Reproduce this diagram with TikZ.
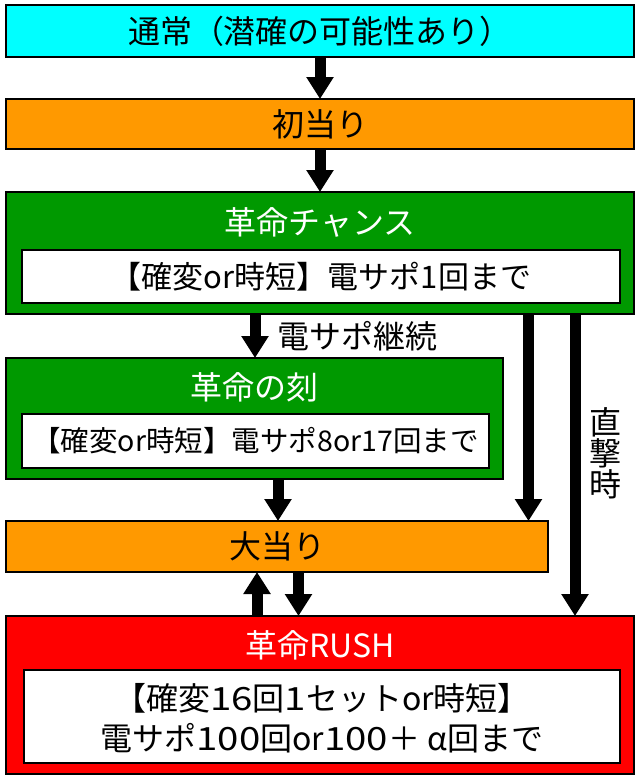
\documentclass[tikz,border=0pt]{standalone}
\usepackage{fontspec}
\setmainfont{Noto Sans CJK JP}
\newfontfamily\digw[FakeStretch=1.2]{Noto Sans CJK JP}
\usetikzlibrary{arrows.meta}
\definecolor{cyanc}{HTML}{00FFFF}
\definecolor{orangec}{HTML}{FF9900}
\definecolor{greenc}{HTML}{009900}
\definecolor{redc}{HTML}{FF0000}
\begin{document}
\begin{tikzpicture}[x=1pt,y=-1pt,
  box/.style={draw=black,line width=1.5pt,inner sep=0pt,outer sep=0pt,rectangle},
  inbox/.style={draw=black,line width=1.3pt,fill=white,inner sep=0pt,outer sep=0pt,rectangle},
  lbl/.style={font=\fontsize{32}{33}\selectfont,inner sep=0pt},
  arr/.style={line width=11pt,-{Triangle[width=26pt,length=22pt]}}]
\fill[white] (0,0) rectangle (640,780);
\useasboundingbox (0,0) rectangle (640,780);
% boxes
\node[box,fill=cyanc,minimum width=628pt,minimum height=52pt] (normal) at (320,31) {};
\node[lbl] (normalt) at (normal) {通常（潜確の可能性あり）};
\node[box,fill=orangec,minimum width=628pt,minimum height=50pt] (first) at (320,124) {};
\node[lbl] (firstt) at (first) {初当り};
\node[box,fill=greenc,minimum width=628pt,minimum height=122pt] (chance) at (320,253) {};
\node[lbl,text=white] (chancet) at (320,222) {革命チャンス};
\node[inbox,minimum width=598pt,minimum height=53pt] (chancei) at (321,276.5) {};
\node[lbl,font=\fontsize{31}{33}\selectfont] (chanceit) at (chancei) {【確変or時短】電サポ1回まで};
\node[box,fill=greenc,minimum width=497pt,minimum height=121pt] (koku) at (254.5,418.5) {};
\node[lbl,text=white] (kokut) at (254.5,387) {革命の刻};
\node[inbox,minimum width=467pt,minimum height=54pt] (kokui) at (255.5,441) {};
\node[lbl,font=\fontsize{28.5}{33}\selectfont] (kokuit) at (kokui) {【確変or時短】電サポ8or17回まで};
\node[box,fill=orangec,minimum width=542pt,minimum height=51pt] (big) at (277,546.5) {};
\node[lbl] (bigt) at (big) {大当り};
\node[box,fill=redc,minimum width=628pt,minimum height=158pt] (rush) at (320,695) {};
\node[lbl,text=white] (rusht) at (320,645) {革命RUSH};
\node[inbox,minimum width=596pt,minimum height=93pt] (rushi) at (322,716.5) {};
\node[lbl,align=center,font=\fontsize{32}{40}\selectfont] (rushit) at (322,718) {【確変{\digw 16}回{\digw 1}セットor時短】\\電サポ{\digw 100}回or{\digw 100}＋ α回まで};
% arrow x positions
\coordinate (xa) at (255,0);
\coordinate (xb) at (528.5,0);
\coordinate (xc) at (575,0);
\coordinate (xd) at (278,0);
\coordinate (xe) at (257,0);
\coordinate (xf) at (298.5,0);
% connectors
\draw[arr] (normal.south) -- (first.north);
\draw[arr] (first.south) -- (chance.north);
\draw[arr] (chance.south -| xa) -- (koku.north -| xa);
\draw[arr] (chance.south -| xb) -- (big.north -| xb);
\draw[arr] (chance.south -| xc) -- (rush.north -| xc);
\draw[arr] (koku.south -| xd) -- (big.north -| xd);
\draw[arr] (rush.north -| xe) -- (big.south -| xe);
\draw[arr] (big.south -| xf) -- (rush.north -| xf);
% labels
\node[lbl,anchor=west] (lcont) at (277,336) {電サポ継続};
\node[lbl,align=center,font=\fontsize{32}{31}\selectfont] (ldirect) at (605,453) {直\\撃\\時};
\end{tikzpicture}
\end{document}
